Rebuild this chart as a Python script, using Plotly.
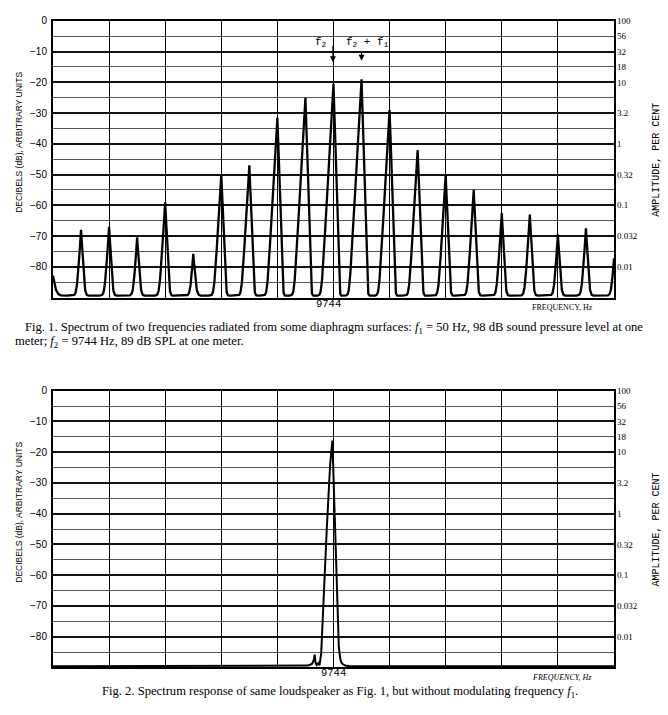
import numpy as np
import plotly.graph_objects as go

W, H = 668, 715

# ---------------- data ----------------
F2_HZ = 9744            # carrier f2
F1_HZ = 50              # modulating f1
x_range_hz = [9244, 10244]

# Fig. 1: sideband order (multiples of f1 around f2) and peak levels (dB)
sideband_order = [-10, -9, -8, -7, -6, -5, -4, -3, -2, -1, 0,
                  1, 2, 3, 4, 5, 6, 7, 8, 9, 10]
sideband_level_db = [-84, -68, -67, -70.5, -59, -76, -50, -47, -31.5, -25, -20.5,
                     -19, -29, -42, -50, -55, -62.5, -63, -69.5, -67.5, -77.5]
fig1_floor_db = -89.4

# Fig. 2: trace points (offset from 9744 Hz, dB)
fig2_offset_hz = [-500, -60, -45, -38, -35, -33.5, -32, -30, -27, -25, -22,
                  -12, -6, -2, 0.5, 5, 7, 9.5, 12, 14, 17, 21, 28, 500]
fig2_level_db = [-89.6, -89.6, -89.4, -88.8, -87.5, -85.8, -88.5, -89.2, -88.6, -89.3, -85.6,
                 -45, -24, -16.2, -31.5, -59.8, -72, -83.5, -87, -88.4, -89.0, -89.4, -89.6, -89.6]

db_tickvals = [0, -10, -20, -30, -40, -50, -60, -70, -80]
pct_tickvals = [0, -5, -10, -15, -20, -30, -40, -50, -60, -70, -80]
pct_ticktext = ['100', '56', '32', '18', '10', '3.2', '1', '0.32', '0.1', '0.032', '0.01']

# ---------------- fig 1 trace (peaks drawn with the analyser's skewed line shape) ----------------
f = np.arange(x_range_hz[0], x_range_hz[1] + 0.001, 0.25)
power = np.full_like(f, 10 ** (fig1_floor_db / 10))
for n, L in zip(sideband_order, sideband_level_db):
    fn = F2_HZ + n * F1_HZ
    D = L - fig1_floor_db
    wl, wr = 0.52 * D ** 0.88, 1.75 * D ** 0.43
    d = f - fn
    v = np.where(d < 0, L + D * d / wl, L - D * d / wr)
    power += 10 ** (v / 10)
fig1_db = 10 * np.log10(power)

fig2_f = [F2_HZ + o for o in fig2_offset_hz]


def px(x):
    return x / W


def py(y):
    return 1 - y / H


XD = [px(53), px(614)]
Y1D = [py(294), py(15)]
Y2D = [py(667), py(388)]

fig = go.Figure()
fig.add_trace(go.Scatter(x=f, y=fig1_db, mode='lines', line=dict(color='black', width=2.3),
                         xaxis='x', yaxis='y', showlegend=False, hoverinfo='skip'))
fig.add_trace(go.Scatter(x=fig2_f, y=fig2_level_db, mode='lines', line=dict(color='black', width=2),
                         xaxis='x2', yaxis='y2', showlegend=False, hoverinfo='skip'))
# invisible traces for right-side amplitude axes
fig.add_trace(go.Scatter(x=[F2_HZ], y=[-50], mode='markers', marker=dict(opacity=0),
                         xaxis='x', yaxis='y3', showlegend=False, hoverinfo='skip'))
fig.add_trace(go.Scatter(x=[F2_HZ], y=[-50], mode='markers', marker=dict(opacity=0),
                         xaxis='x2', yaxis='y4', showlegend=False, hoverinfo='skip'))

xcommon = dict(range=x_range_hz, tick0=x_range_hz[0], dtick=100, showgrid=True,
               gridcolor='black', gridwidth=1.4, showticklabels=False, ticks='',
               showline=True, linecolor='black', linewidth=2, mirror=True, zeroline=False,
               domain=XD)
yleft = dict(range=[-90, 0], tickvals=db_tickvals, showgrid=True, gridcolor='#111',
             gridwidth=1.5, minor=dict(dtick=5, tick0=0, showgrid=True, gridcolor='#555', gridwidth=1.1),
             showline=True, linecolor='black', linewidth=2, mirror=True, zeroline=False,
             ticks='', ticklabelstandoff=2,
             tickfont=dict(family='Liberation Sans', size=10, color='black'))
yright = dict(range=[-90, 0], tickvals=pct_tickvals, ticktext=pct_ticktext, side='right',
              showgrid=False, zeroline=False, showline=False, ticks='', ticklabelstandoff=2,
              tickfont=dict(family='Liberation Serif', size=9, color='black'))

fig.update_layout(
    width=W, height=H, margin=dict(l=0, r=0, t=0, b=0),
    paper_bgcolor='white', plot_bgcolor='white', showlegend=False,
    xaxis=dict(anchor='y', **xcommon),
    xaxis2=dict(anchor='y2', **xcommon),
    yaxis=dict(anchor='x', domain=Y1D, **yleft),
    yaxis2=dict(anchor='x2', domain=Y2D, **yleft),
    yaxis3=dict(overlaying='y', anchor='x', **yright),
    yaxis4=dict(overlaying='y2', anchor='x2', **yright),
)

ann = []
sans = dict(family='Liberation Sans', size=8.5, color='black')
mono = dict(family='Liberation Mono', size=10, color='black')
serif = dict(family='Liberation Serif', size=12.6, color='black')

for yc_l, yc_r, yfreq, italic in [(138, 155, 304, False), (511, 528, 677, True)]:
    ann.append(dict(text='DECIBELS (dB), ARBITRARY UNITS', x=px(19), y=py(yc_l), textangle=-90,
                    font=sans, showarrow=False, xanchor='center', yanchor='middle'))
    ann.append(dict(text='AMPLITUDE, PER CENT', x=px(657), y=py(yc_r), textangle=-90,
                    font=mono, showarrow=False, xanchor='center', yanchor='middle'))
    ann.append(dict(text='FREQUENCY, Hz' if not italic else '<i>FREQUENCY, Hz</i>',
                    x=px(562), y=py(yfreq), font=dict(family='Liberation Serif', size=8, color='black'),
                    showarrow=False, xanchor='center', yanchor='middle'))

ann.append(dict(text='9744', x=px(328), y=py(301), font=dict(family='Liberation Mono', size=10.5, color='black'),
                showarrow=False, xanchor='center', yanchor='middle'))
ann.append(dict(text='9744', x=px(333), y=py(673), font=dict(family='Liberation Mono', size=10.5, color='black'),
                showarrow=False, xanchor='center', yanchor='middle'))

# f2 / f2+f1 markers
ann.append(dict(text='f<sub>2</sub>', x=px(313), y=py(37), font=dict(family='Liberation Mono', size=11, color='black'),
                showarrow=False, xanchor='left', yanchor='middle'))
ann.append(dict(text='f<sub>2</sub> + f<sub>1</sub>', x=px(344), y=py(37),
                font=dict(family='Liberation Mono', size=11, color='black'),
                showarrow=False, xanchor='left', yanchor='middle'))
ann.append(dict(text='', x=F2_HZ - 1, y=-13.5, xref='x', yref='y', showarrow=True, ax=0, ay=-18,
                arrowhead=2, arrowsize=1, arrowwidth=1.2, arrowcolor='black'))
ann.append(dict(text='', x=F2_HZ + F1_HZ, y=-13, xref='x', yref='y', showarrow=True, ax=0, ay=-10,
                arrowhead=2, arrowsize=1, arrowwidth=1.2, arrowcolor='black'))

# captions
ann.append(dict(text='Fig. 1. Spectrum of two frequencies radiated from some diaphragm surfaces: '
                     '<i>f</i><sub>1</sub> = 50 Hz, 98 dB sound pressure level at one',
                x=px(23), y=py(325), font=serif, showarrow=False, xanchor='left', yanchor='middle'))
ann.append(dict(text='meter; <i>f</i><sub>2</sub> = 9744 Hz, 89 dB SPL at one meter.',
                x=px(13), y=py(339), font=serif, showarrow=False, xanchor='left', yanchor='middle'))
ann.append(dict(text='Fig. 2. Spectrum response of same loudspeaker as Fig. 1, but without modulating frequency '
                     '<i>f</i><sub>1</sub>.',
                x=px(100), y=py(692), font=serif, showarrow=False, xanchor='left', yanchor='middle'))

for a in ann:
    a.setdefault('xref', 'paper')
    a.setdefault('yref', 'paper')
fig.update_layout(annotations=ann)

fig.write_html('out.html')
